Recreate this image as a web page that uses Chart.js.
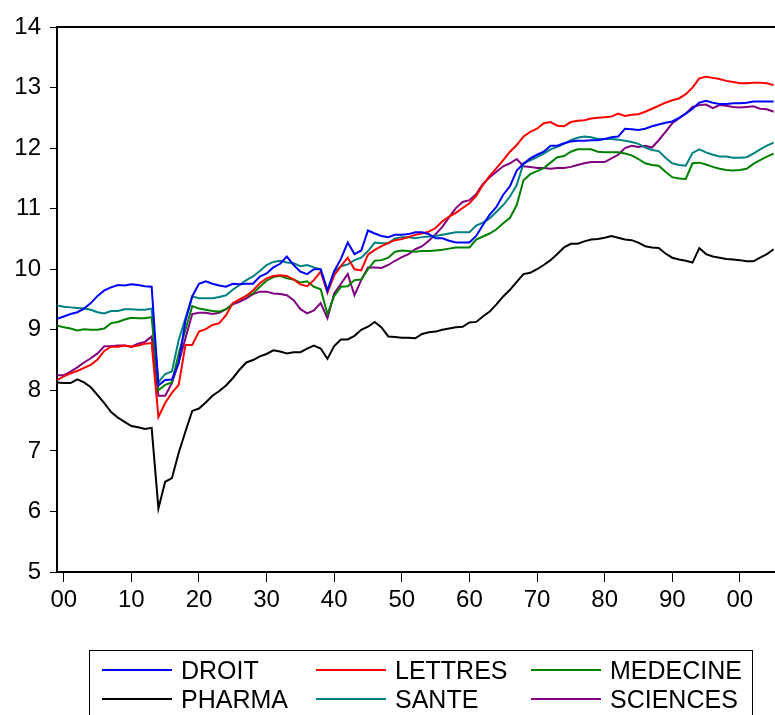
<!DOCTYPE html>
<html>
<head>
<meta charset="utf-8">
<script src="https://cdn.jsdelivr.net/npm/chart.js@4"></script>
<style>
    body { margin: 0; background: #fff; }
    #wrap { position: relative; width: 775px; height: 715px; overflow: hidden; }
    #legend {
        position: absolute; left: 89px; top: 650px; width: 664px; height: 90px;
        border: 1px solid #000; box-sizing: border-box;
        font-family: "Liberation Sans", Arial, sans-serif; font-size: 25px; color: #000;
    }
    .item { position: absolute; height: 28px; line-height: 28px; white-space: nowrap; }
    .item .swatch { position: absolute; left: 0; top: 13px; width: 70px; height: 2px; }
    .item span { position: absolute; left: 79px; top: 0; }
</style>
</head>
<body>
<div id="wrap">
    <canvas id="chart" width="775" height="715"></canvas>
    <div id="legend"></div>
</div>
<script>
// années 1899 - 2005
const years = Array.from({ length: 107 }, (_, i) => 1899 + i);
const xTickYears = [1900, 1910, 1920, 1930, 1940, 1950, 1960, 1970, 1980, 1990, 2000];
const xTickLabels = ['00', '10', '20', '30', '40', '50', '60', '70', '80', '90', '00'];

const droit = [
    9.18, 9.22, 9.26, 9.29, 9.35, 9.44, 9.56, 9.65, 9.70, 9.74, 9.73,
    9.75, 9.74, 9.72, 9.71, 8.08, 8.17, 8.18, 8.45, 9.15, 9.55,
    9.76, 9.80, 9.76, 9.73, 9.71, 9.76, 9.75, 9.76, 9.76, 9.88,
    9.93, 10.03, 10.09, 10.21, 10.07, 9.96, 9.92, 10.00, 10.00, 9.64,
    9.97, 10.17, 10.44, 10.25, 10.31, 10.64, 10.59, 10.55, 10.53, 10.57,
    10.57, 10.58, 10.61, 10.61, 10.58, 10.51, 10.51, 10.47, 10.44, 10.44,
    10.44, 10.55, 10.73, 10.90, 11.03, 11.23, 11.37, 11.63, 11.74, 11.83,
    11.89, 11.94, 12.04, 12.04, 12.08, 12.11, 12.12, 12.12, 12.13, 12.13,
    12.15, 12.18, 12.19, 12.32, 12.31, 12.30, 12.32, 12.36, 12.39, 12.42,
    12.44, 12.50, 12.57, 12.65, 12.75, 12.78, 12.75, 12.73, 12.73, 12.74,
    12.74, 12.75, 12.77, 12.77, 12.77, 12.77
];
const lettres = [
    8.17, 8.23, 8.28, 8.32, 8.37, 8.42, 8.51, 8.65, 8.72, 8.72, 8.74,
    8.72, 8.74, 8.77, 8.78, 7.56, 7.79, 7.96, 8.09, 8.75, 8.75,
    8.97, 9.01, 9.08, 9.11, 9.24, 9.44, 9.50, 9.56, 9.65, 9.77,
    9.85, 9.89, 9.90, 9.89, 9.83, 9.75, 9.72, 9.82, 9.96, 9.61,
    9.90, 10.05, 10.19, 10.00, 9.98, 10.24, 10.32, 10.38, 10.43, 10.48,
    10.50, 10.53, 10.57, 10.59, 10.62, 10.68, 10.79, 10.87, 10.93, 11.01,
    11.09, 11.21, 11.39, 11.54, 11.67, 11.80, 11.94, 12.05, 12.19, 12.27,
    12.32, 12.41, 12.43, 12.37, 12.36, 12.43, 12.45, 12.46, 12.49, 12.50,
    12.51, 12.52, 12.57, 12.53, 12.55, 12.56, 12.60, 12.65, 12.70, 12.75,
    12.79, 12.82, 12.89, 13.00, 13.15, 13.18, 13.16, 13.14, 13.11, 13.09,
    13.07, 13.07, 13.08, 13.08, 13.07, 13.04
];
const medecine = [
    9.07, 9.04, 9.02, 8.99, 9.01, 9.00, 9.00, 9.02, 9.11, 9.13, 9.17,
    9.20, 9.19, 9.19, 9.21, 8.00, 8.09, 8.13, 8.61, 9.00, 9.39,
    9.35, 9.33, 9.31, 9.30, 9.34, 9.43, 9.50, 9.56, 9.60, 9.71,
    9.81, 9.87, 9.89, 9.85, 9.83, 9.78, 9.80, 9.71, 9.67, 9.26,
    9.56, 9.71, 9.72, 9.82, 9.83, 10.00, 10.14, 10.15, 10.19, 10.29,
    10.31, 10.30, 10.29, 10.30, 10.30, 10.31, 10.32, 10.34, 10.36, 10.36,
    10.36, 10.49, 10.54, 10.59, 10.66, 10.76, 10.85, 11.06, 11.47, 11.57,
    11.62, 11.67, 11.76, 11.85, 11.87, 11.94, 11.98, 11.98, 11.98, 11.94,
    11.93, 11.93, 11.93, 11.91, 11.88, 11.82, 11.75, 11.72, 11.71, 11.61,
    11.52, 11.50, 11.49, 11.75, 11.76, 11.73, 11.69, 11.66, 11.64, 11.63,
    11.64, 11.66, 11.74, 11.80, 11.86, 11.91
];
const pharma = [
    8.13, 8.12, 8.12, 8.18, 8.13, 8.05, 7.92, 7.79, 7.64, 7.55, 7.48,
    7.41, 7.39, 7.36, 7.38, 6.05, 6.49, 6.55, 6.97, 7.32, 7.66,
    7.70, 7.80, 7.91, 7.99, 8.08, 8.20, 8.34, 8.46, 8.50, 8.56,
    8.60, 8.66, 8.64, 8.61, 8.63, 8.63, 8.69, 8.74, 8.69, 8.52,
    8.73, 8.84, 8.84, 8.90, 9.00, 9.05, 9.13, 9.04, 8.89, 8.88,
    8.87, 8.87, 8.86, 8.93, 8.96, 8.97, 9.00, 9.02, 9.04, 9.05,
    9.12, 9.13, 9.22, 9.30, 9.42, 9.55, 9.66, 9.79, 9.92, 9.94,
    10.00, 10.07, 10.15, 10.25, 10.36, 10.42, 10.42, 10.46, 10.49, 10.50,
    10.52, 10.55, 10.52, 10.49, 10.48, 10.44, 10.38, 10.36, 10.35, 10.26,
    10.19, 10.16, 10.14, 10.11, 10.35, 10.25, 10.21, 10.19, 10.17, 10.16,
    10.15, 10.13, 10.13, 10.19, 10.25, 10.33
];
const sante = [
    9.40, 9.38, 9.37, 9.36, 9.35, 9.33, 9.29, 9.27, 9.31, 9.31, 9.34,
    9.34, 9.33, 9.33, 9.35, 8.13, 8.27, 8.31, 8.83, 9.19, 9.55,
    9.52, 9.52, 9.52, 9.54, 9.57, 9.66, 9.74, 9.82, 9.88, 9.97,
    10.07, 10.12, 10.14, 10.11, 10.10, 10.05, 10.07, 10.03, 10.00, 9.66,
    9.96, 10.05, 10.08, 10.15, 10.19, 10.30, 10.44, 10.43, 10.43, 10.51,
    10.53, 10.53, 10.51, 10.53, 10.54, 10.55, 10.57, 10.59, 10.61, 10.61,
    10.61, 10.72, 10.77, 10.84, 10.95, 11.06, 11.20, 11.39, 11.75, 11.80,
    11.85, 11.91, 11.98, 12.02, 12.07, 12.13, 12.17, 12.19, 12.18, 12.15,
    12.15, 12.15, 12.14, 12.12, 12.10, 12.07, 12.01, 11.97, 11.95, 11.84,
    11.75, 11.72, 11.71, 11.92, 11.98, 11.93, 11.89, 11.86, 11.86, 11.84,
    11.84, 11.85, 11.91, 11.98, 12.04, 12.09
];
const sciences = [
    8.25, 8.25, 8.31, 8.38, 8.46, 8.53, 8.61, 8.73, 8.73, 8.74, 8.74,
    8.72, 8.77, 8.80, 8.89, 7.91, 7.91, 8.12, 8.46, 8.86, 9.26,
    9.28, 9.28, 9.26, 9.28, 9.34, 9.42, 9.46, 9.52, 9.59, 9.63,
    9.63, 9.60, 9.59, 9.57, 9.49, 9.34, 9.27, 9.32, 9.44, 9.19,
    9.60, 9.76, 9.92, 9.57, 9.82, 10.03, 10.03, 10.02, 10.07, 10.14,
    10.20, 10.25, 10.33, 10.38, 10.47, 10.58, 10.70, 10.86, 11.01, 11.11,
    11.14, 11.24, 11.41, 11.52, 11.61, 11.70, 11.75, 11.82, 11.70, 11.69,
    11.67, 11.67, 11.66, 11.67, 11.67, 11.69, 11.72, 11.75, 11.77, 11.77,
    11.77, 11.83, 11.89, 12.00, 12.04, 12.02, 12.04, 12.01, 12.13, 12.27,
    12.41, 12.49, 12.57, 12.68, 12.71, 12.72, 12.66, 12.71, 12.70, 12.68,
    12.67, 12.68, 12.69, 12.65, 12.64, 12.60
];

const seriesNames = ['DROIT', 'LETTRES', 'MEDECINE', 'PHARMA', 'SANTE', 'SCIENCES'];
const seriesValues = [droit, lettres, medecine, pharma, sante, sciences];
const seriesColors = ['#0000ff', '#ff0000', '#008000', '#000000', '#008080', '#800080'];

const FONT = '"Liberation Sans", Arial, sans-serif';

// cadre du haut
const topFrame = {
    id: 'topFrame',
    afterDraw(chart) {
        const { ctx, chartArea } = chart;
        ctx.save();
        ctx.strokeStyle = '#000';
        ctx.lineWidth = 2;
        ctx.beginPath();
        ctx.moveTo(chartArea.left - 1, chartArea.top);
        ctx.lineTo(chartArea.right, chartArea.top);
        ctx.stroke();
        ctx.restore();
    }
};

document.addEventListener('DOMContentLoaded', () => {
    const ctx = document.getElementById('chart').getContext('2d');

    const datasets = seriesNames.map((name, i) => ({
        label: name,
        data: years.map((y, j) => ({ x: y, y: seriesValues[i][j] })),
        borderColor: seriesColors[i],
        borderWidth: 2,
        pointRadius: 0,
        fill: false,
        tension: 0
    }));

    new Chart(ctx, {
        type: 'line',
        data: { datasets: datasets },
        options: {
            responsive: false,
            animation: false,
            layout: { padding: { top: 27, left: 0, right: 0, bottom: 0 } },
            plugins: {
                legend: { display: false },
                tooltip: { enabled: false }
            },
            scales: {
                x: {
                    type: 'linear',
                    min: 1899,
                    max: 2005.2,
                    afterBuildTicks: (scale) => {
                        scale.ticks = xTickYears.map(v => ({ value: v }));
                    },
                    afterFit: (scale) => { scale.height = 143; },
                    grid: {
                        display: true,
                        drawOnChartArea: false,
                        drawTicks: true,
                        tickLength: 10,
                        tickColor: '#000',
                        tickWidth: 1
                    },
                    border: { display: true, color: '#000', width: 2 },
                    ticks: {
                        autoSkip: false,
                        maxRotation: 0,
                        padding: 4,
                        color: '#000',
                        font: { family: FONT, size: 24 },
                        callback: (v) => xTickLabels[xTickYears.indexOf(v)]
                    }
                },
                y: {
                    min: 5,
                    max: 14,
                    afterFit: (scale) => { scale.width = 57; },
                    grid: {
                        display: true,
                        drawOnChartArea: false,
                        drawTicks: true,
                        tickLength: 7,
                        tickColor: '#000',
                        tickWidth: 1
                    },
                    border: { display: true, color: '#000', width: 2 },
                    ticks: {
                        stepSize: 1,
                        padding: 9,
                        color: '#000',
                        font: { family: FONT, size: 24 }
                    }
                }
            }
        },
        plugins: [topFrame]
    });

    // légende en bas
    const legend = document.getElementById('legend');
    const colX = [12, 226, 441];
    const rowY = [5, 34];
    seriesNames.forEach((name, i) => {
        const item = document.createElement('div');
        item.className = 'item';
        item.style.left = colX[i % 3] + 'px';
        item.style.top = rowY[Math.floor(i / 3)] + 'px';
        item.innerHTML = '<div class="swatch" style="background:' + seriesColors[i] + '"></div><span>' + name + '</span>';
        legend.appendChild(item);
    });
});
</script>
</body>
</html>
